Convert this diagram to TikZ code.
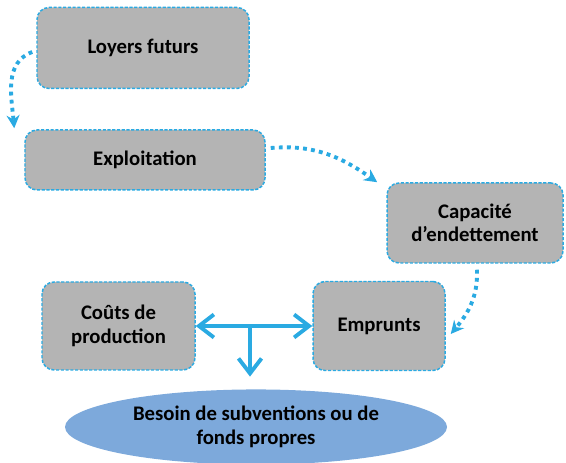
\documentclass[tikz,border=0pt]{standalone}
\usepackage{fontspec}
\setmainfont{Carlito}
\usetikzlibrary{arrows.meta,shapes.geometric}
\definecolor{azul}{HTML}{2AAAE2}
\definecolor{gris}{HTML}{B4B4B4}
\definecolor{elipse}{HTML}{7DA9DB}

\begin{document}
\begin{tikzpicture}[
	caja/.style={draw=azul, fill=gris, line width=0.85pt, dash pattern=on 1.8pt off 0.9pt,
		rounded corners=0.24cm, align=center, inner sep=0pt,
		font=\fontsize{11.8}{13.4}\selectfont\bfseries},
	punteada/.style={azul, line width=2.2pt, dash pattern=on 2.2pt off 2.4pt,
		-{Stealth[length=0.26cm,width=0.26cm]}},
	flecha/.style={azul, line width=2.2pt,
		{Straight Barb[length=0.3cm,width=0.46cm]}-{Straight Barb[length=0.3cm,width=0.46cm]}},
	flechab/.style={azul, line width=2.2pt, -{Straight Barb[length=0.3cm,width=0.46cm]}}
	]
	\useasboundingbox (0,0) rectangle (11.32,9.24);
	
	%Cajas del diagrama
	\node[caja, minimum width=4.24cm, minimum height=1.62cm] (loyers) at (2.86,8.28) {Loyers futurs};
	\node[caja, minimum width=4.8cm, minimum height=1.2cm] (exploit) at (2.9,6.04) {Exploitation};
	\node[caja, minimum width=3.52cm, minimum height=1.6cm] (capa) at (9.5,4.78) {Capacité\\d’endettement};
	\node[caja, minimum width=2.64cm, minimum height=1.78cm] (emprunts) at (7.58,2.72) {Emprunts};
	\node[caja, minimum width=3.06cm, minimum height=1.76cm] (couts) at (2.37,2.72) {Coûts de\\production};
	
	% Elipse final
	\node[ellipse, fill=elipse, minimum width=7.64cm, minimum height=1.32cm, align=center,
		font=\fontsize{11.8}{13.4}\selectfont\bfseries] (besoin) at (5.12,0.7)
		{Besoin de subventions ou de\\fonds propres};
	
	% Flechas punteadas
	\draw[punteada] ([xshift=-0.08cm,yshift=-0.08cm]loyers.west) to[out=200,in=95] ([xshift=-0.2cm,yshift=0.02cm]exploit.north west);
	\draw[punteada] ([xshift=0.1cm,yshift=0.24cm]exploit.east) to[out=5,in=145] ([xshift=-0.18cm]capa.north west);
	\draw[punteada] ([xshift=0.04cm,yshift=-0.12cm]capa.south) to[out=-88,in=50] ([xshift=0.1cm,yshift=-0.16cm]emprunts.east);
	
	% Flechas de reparto
	\coordinate (union) at (5.0,2.72);
	\draw[flecha] (couts.east) -- (emprunts.west);
	\draw[flechab, shorten >=0.25cm] (union) -- (union |- besoin.north);
	
\end{tikzpicture}
\end{document}
